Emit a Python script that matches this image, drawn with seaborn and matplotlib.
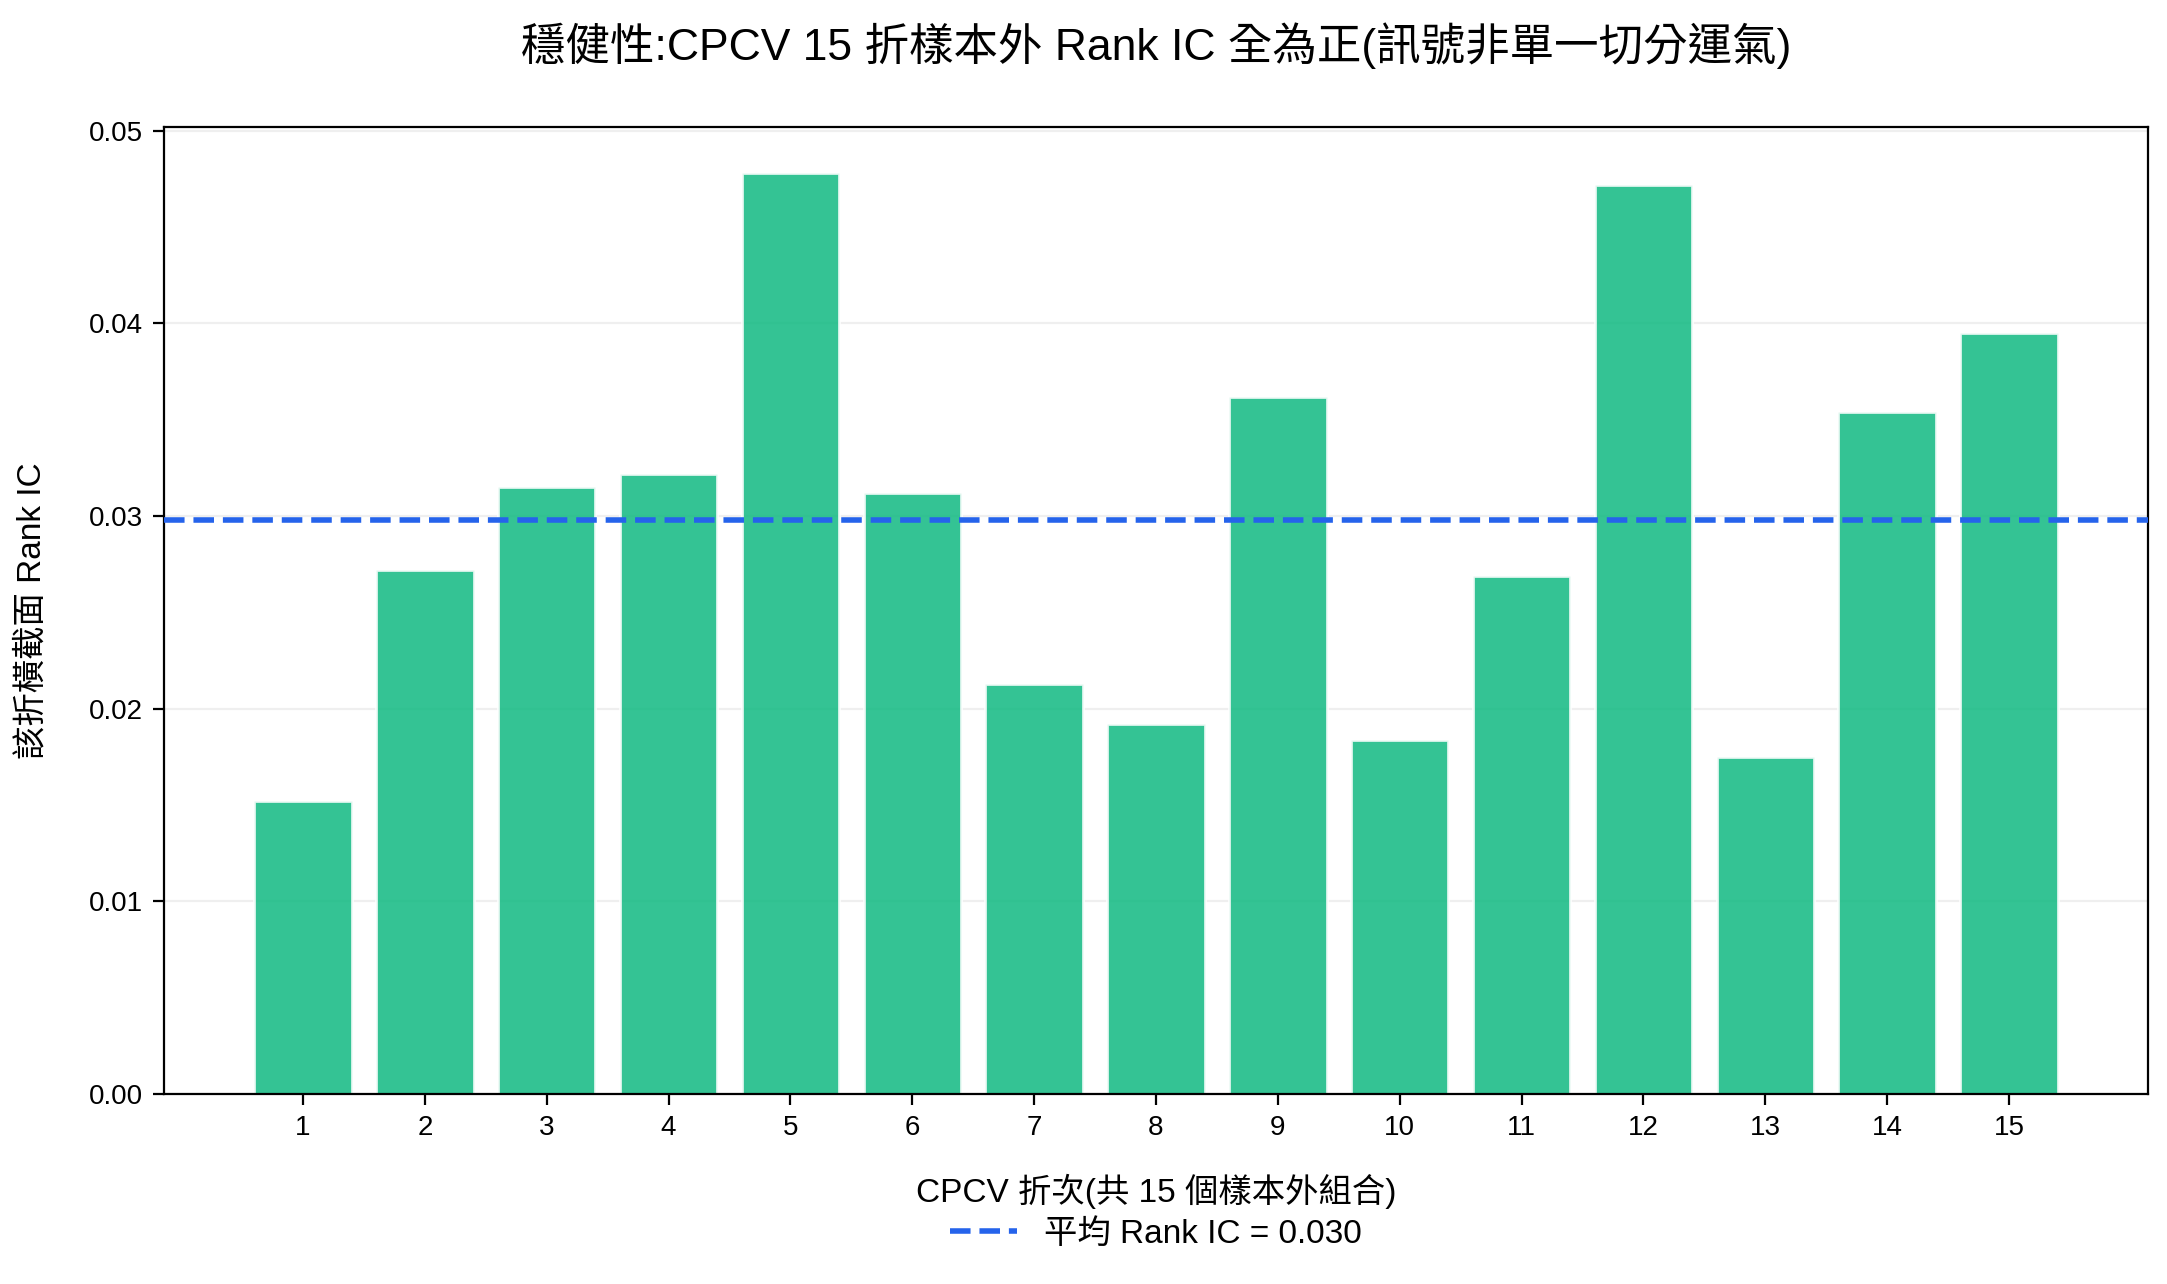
import numpy as np
import pandas as pd
import seaborn as sns
from matplotlib import pyplot as plt

# CPCV fold results
folds = list(range(1, 16))
rank_ic = [0.0152, 0.0272, 0.0315, 0.0322, 0.0478, 0.0312, 0.0213, 0.0192,
           0.0362, 0.0184, 0.0269, 0.0472, 0.0175, 0.0354, 0.0395]

title = "穩健性:CPCV 15 折樣本外 Rank IC 全為正(訊號非單一切分運氣)"
xlabel = "CPCV 折次(共 15 個樣本外組合)"
ylabel = "該折橫截面 Rank IC"

sns.set_style("white")
plt.rcParams['font.family'] = ['Liberation Sans', 'Noto Sans CJK TC', 'DejaVu Sans']
plt.rcParams['axes.unicode_minus'] = False
plt.rcParams['text.color'] = 'black'
plt.rcParams['axes.labelcolor'] = 'black'
plt.rcParams['xtick.color'] = 'black'
plt.rcParams['ytick.color'] = 'black'

df = pd.DataFrame({"fold": folds, "ic": rank_ic})
mean_ic = np.mean(rank_ic)

fig = plt.figure(figsize=(10.835, 6.42), dpi=200)
ax = fig.add_axes([0.0757, 0.148, 0.9155, 0.753])

sns.barplot(data=df, x="fold", y="ic", native_scale=True, color="#10b981",
            saturation=1, alpha=0.85, width=0.8, ax=ax, zorder=2)
ax.axhline(mean_ic, color="#2563eb", linestyle="--", linewidth=2,
           label=f"平均 Rank IC = {mean_ic:.3f}", zorder=3)

ax.set_xticks(folds)
ax.set_xticklabels([str(f) for f in folds])
ax.set_yticks([0.0, 0.01, 0.02, 0.03, 0.04, 0.05])
ax.set_yticklabels(["0.00", "0.01", "0.02", "0.03", "0.04", "0.05"])
ax.margins(x=0.05)
ax.set_ylim(0, max(rank_ic) * 1.05)
ax.tick_params(axis="both", labelsize=10, length=4, width=0.8, direction="out",
               bottom=True, left=True)
ax.grid(axis="y", alpha=0.3, zorder=0)
ax.set_axisbelow(True)
for s in ax.spines.values():
    s.set_color("black")
    s.set_linewidth(0.8)

ax.set_xlabel(xlabel, fontsize=12, labelpad=12)
ax.set_ylabel(ylabel, fontsize=12, labelpad=15)
ax.set_title(title, fontsize=16, pad=24)
ax.legend(loc="upper center", bbox_to_anchor=(0.5, -0.098), frameon=False, fontsize=12)

plt.savefig("out.png", dpi=200)
plt.close()
